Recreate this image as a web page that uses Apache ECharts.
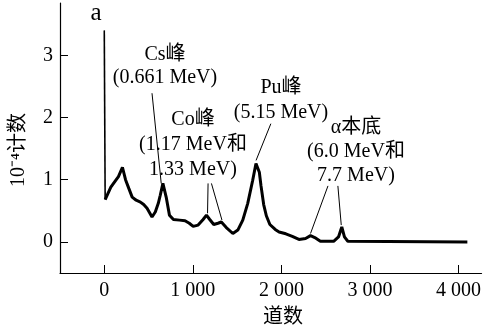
<!DOCTYPE html>
<html>
<head>
<meta charset="utf-8">
<script src="https://cdn.jsdelivr.net/npm/echarts@6/dist/echarts.min.js"></script>
<style>
  html, body { margin: 0; padding: 0; background: #fff; }
  #chart { width: 484px; height: 331px; }
</style>
</head>
<body>
<div id="chart"></div>
<script>
// spectrum: channel number and counts (x 10^-4)
const channels = [0, 10, 74, 129, 160, 205, 240, 277, 315, 360, 408, 445, 483, 539, 576, 610, 632, 662, 699, 736, 781, 850, 912, 960, 1004, 1060, 1116, 1154, 1191, 1236, 1284, 1322, 1378, 1452, 1508, 1564, 1620, 1676, 1713, 1751, 1770, 1800, 1830, 1870, 1930, 1974, 2050, 2123, 2198, 2273, 2329, 2377, 2440, 2590, 2645, 2682, 2712, 2750, 4100];
const counts = [3.40, 0.68, 0.88, 0.99, 1.05, 1.20, 1.00, 0.86, 0.72, 0.67, 0.64, 0.60, 0.54, 0.40, 0.48, 0.62, 0.75, 0.94, 0.72, 0.43, 0.36, 0.35, 0.34, 0.30, 0.25, 0.27, 0.36, 0.43, 0.36, 0.28, 0.30, 0.32, 0.23, 0.135, 0.19, 0.35, 0.62, 0.99, 1.26, 1.12, 0.90, 0.60, 0.42, 0.28, 0.20, 0.16, 0.13, 0.09, 0.04, 0.055, 0.10, 0.07, 0.01, 0.01, 0.08, 0.24, 0.08, 0.01, 0];
const xTicks = [0, 1000, 2000, 3000, 4000];
const yTicks = [0, 1, 2, 3];

// peak labels and their leader lines (ends given as [channel, counts])
const peakLabels = ['Cs峰\n(0.661 MeV)', 'Co峰\n(1.17 MeV和\n1.33 MeV)', 'Pu峰\n(5.15 MeV)', 'α本底\n(6.0 MeV和\n7.7 MeV)'];
const leaderStart = [[539, 2.39], [1172, 0.94], [1210, 0.94], [1881, 1.90], [2526, 0.90], [2638, 0.90]];
const leaderEnd = [[643, 0.94], [1166, 0.46], [1329, 0.35], [1714, 1.31], [2329, 0.135], [2676, 0.27]];

const serif = '"Liberation Serif", "Noto Sans CJK SC", serif';

const chart = echarts.init(document.getElementById('chart'));

const fmtTick = (v) => String(v).replace(/\B(?=(\d{3})+(?!\d))/g, ' ');
const points = channels.map((c, i) => [c, counts[i]]);

const labelText = (text, x, y, lh, size) => ({
  type: 'text',
  x: x,
  y: y,
  z: 10,
  style: {
    text: text,
    align: 'center',
    verticalAlign: 'top',
    fontFamily: serif,
    fontSize: size || 20,
    lineHeight: lh,
    fill: '#000'
  }
});

const option = {
  backgroundColor: '#fff',
  animation: false,
  grid: { left: 60, right: 0, top: 3, bottom: 58 },
  xAxis: {
    type: 'value',
    min: -500,
    max: 4260,
    splitLine: { show: false },
    axisLine: { show: true, onZero: false, lineStyle: { color: '#000', width: 1.2 } },
    axisTick: { show: true, inside: true, length: 8, customValues: xTicks, lineStyle: { color: '#000' } },
    axisLabel: {
      customValues: xTicks,
      formatter: fmtTick,
      margin: 8,
      color: '#000',
      fontFamily: serif,
      fontSize: 20
    }
  },
  yAxis: {
    type: 'value',
    min: -0.5,
    max: 3.84,
    splitLine: { show: false },
    axisLine: { show: true, onZero: false, lineStyle: { color: '#000', width: 1.2 } },
    axisTick: { show: true, inside: true, length: 8, customValues: yTicks, lineStyle: { color: '#000' } },
    axisLabel: {
      customValues: yTicks,
      margin: 7,
      color: '#000',
      fontFamily: serif,
      fontSize: 20
    }
  },
  series: [
    {
      // the narrow spike at channel 0
      type: 'line',
      data: points.slice(0, 2),
      showSymbol: false,
      lineStyle: { color: '#000', width: 1.6 }
    },
    {
      type: 'line',
      data: points.slice(1),
      showSymbol: false,
      lineStyle: { color: '#000', width: 3 },
      markLine: {
        silent: true,
        symbol: 'none',
        label: { show: false },
        lineStyle: { color: '#000', width: 1, type: 'solid' },
        data: leaderStart.map((s, i) => [{ coord: s }, { coord: leaderEnd[i] }])
      }
    }
  ],
  graphic: [
    labelText('a', 96, 0, 26, 25),
    labelText(peakLabels[0], 165, 43.5, 23),
    labelText(peakLabels[1], 193, 107.5, 25),
    labelText(peakLabels[2], 281, 75, 25),
    labelText(peakLabels[3], 356, 115.5, 24),
    labelText('道数', 283, 307, 22),
    {
      type: 'text',
      x: 19,
      y: 150,
      rotation: Math.PI / 2,
      style: {
        text: '10⁻⁴计数',
        align: 'center',
        verticalAlign: 'middle',
        fontFamily: serif,
        fontSize: 20,
        fill: '#000'
      }
    }
  ]
};

chart.setOption(option);
</script>
</body>
</html>
